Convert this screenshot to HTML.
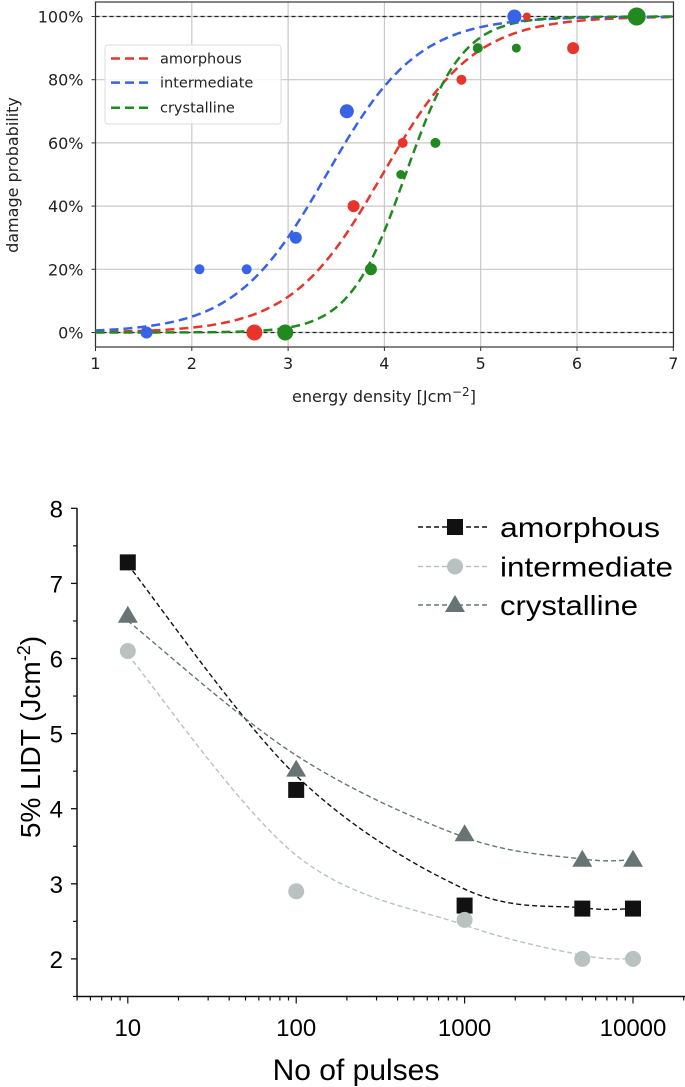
<!DOCTYPE html>
<html><head><meta charset="utf-8"><style>
html,body{margin:0;padding:0;background:#fff;}
svg{display:block;}
</style></head><body>
<svg id="chart" width="685" height="1087" xmlns="http://www.w3.org/2000/svg">
<g id="top"></g>
<g id="bot"></g>
</svg>
<script>
// ---------- Top chart data ----------
const topXTicks = [1,2,3,4,5,6,7];
const topYTicks = [0,20,40,60,80,100];
const seriesNames = ["amorphous","intermediate","crystalline"];
const seriesColors = ["#e8352c","#3a62e6","#21891f"];
const fitMid = [3.98, 3.40, 4.22];
const fitSlope = [2.1, 2.1, 3.4];
const amorX = [2.65,3.68,4.19,4.80,5.48,5.96];
const amorY = [0,40,60,80,100,90];
const amorR = [8,6,5,5,4,6];
const interX = [1.53,2.08,2.57,3.08,3.61,5.35];
const interY = [0,20,20,30,70,100];
const interR = [6,5,5,6,7,7];
const crysX = [2.97,3.86,4.17,4.53,4.97,5.37,6.62];
const crysY = [0,20,50,60,90,90,100];
const crysR = [8,6,4.5,5,5,4.5,9];

// ---------- Bottom chart data ----------
const botXTicks = [10,100,1000,10000];
const botYTicks = [2,3,4,5,6,7,8];
const pulses = [10,100,1000,5000,10000];
const lidtAmor = [7.28,4.25,2.71,2.67,2.67];
const lidtInter = [6.10,2.90,2.52,2.00,2.00];
const lidtCrys = [6.57,4.52,3.66,3.32,3.32];
const fitAmor = [7.25,4.44,2.93,2.68,2.67];
const fitInter = [6.05,3.38,2.45,2.05,2.00];
const fitCrys = [6.50,4.71,3.62,3.33,3.32];

const NS="http://www.w3.org/2000/svg";
function mk(parent,tag,attrs,text){const e=document.createElementNS(NS,tag);for(const k in attrs)e.setAttribute(k,attrs[k]);if(text!==undefined)e.textContent=text;parent.appendChild(e);return e;}

// ===== TOP =====
const T=document.getElementById('top');
const tx=v=>95.5+(v-1)*96.3;
const ty=p=>332.5-p*3.16;
const L=95.5,R=673.5,Tp=2,B=347;
for(const v of topXTicks){
  const g=mk(T,'line',{x1:tx(v),x2:tx(v),y1:Tp,y2:B,stroke:'#c8c8c8','stroke-width':1.2});
  
  mk(T,'line',{x1:tx(v),x2:tx(v),y1:B,y2:B+4,stroke:'#333'});
  const t=mk(T,'text',{x:tx(v),y:B+22,'text-anchor':'middle','font-family':'DejaVu Sans, sans-serif','font-size':16,fill:'#222'},String(v));
  
}
for(const p of topYTicks){
  const g=mk(T,'line',{x1:L,x2:R,y1:ty(p),y2:ty(p),stroke:'#c8c8c8','stroke-width':1.2});
  
  mk(T,'line',{x1:L-4,x2:L,y1:ty(p),y2:ty(p),stroke:'#333'});
  const t=mk(T,'text',{x:L-12,y:ty(p)+6,'text-anchor':'end','font-family':'DejaVu Sans, sans-serif','font-size':16,fill:'#222'},p+'%');
  
}
for(const p of [0,100]){
  const h=mk(T,'line',{x1:L,x2:R,y1:ty(p),y2:ty(p),stroke:'#222','stroke-width':1.2,'stroke-dasharray':'4,3'});
  
}
const fr=mk(T,'rect',{x:L,y:Tp,width:R-L,height:B-Tp,fill:'none',stroke:'#333','stroke-width':1.2});

const ptsSets=[[amorX,amorY,amorR],[interX,interY,interR],[crysX,crysY,crysR]];
for(let s=0;s<3;s++){
  let d='';
  for(let i=0;i<=200;i++){const x=1+6*i/200;const p=100/(1+Math.exp(-fitSlope[s]*(x-fitMid[s])));d+=(i?'L':'M')+tx(x).toFixed(1)+','+ty(p).toFixed(1);}
  const c=mk(T,'path',{d:d,fill:'none',stroke:seriesColors[s],'stroke-width':2.5,'stroke-dasharray':'9,5'});
  
}
for(let s=0;s<3;s++){
  const [xs,ys,rs]=ptsSets[s];
  for(let i=0;i<xs.length;i++){
    const c=mk(T,'circle',{cx:tx(xs[i]),cy:ty(ys[i]),r:rs[i],fill:seriesColors[s]});
    
  }
}
const lg=mk(T,'g',{});

mk(lg,'rect',{x:105,y:45,width:176,height:79,rx:3,fill:'#fff','fill-opacity':0.85,stroke:'#ddd'});
for(let s=0;s<3;s++){
  const y=[58.5,82.6,107.7][s];
  mk(lg,'line',{x1:111,x2:148,y1:y,y2:y,stroke:seriesColors[s],'stroke-width':2.5,'stroke-dasharray':'9,5'});
  const t=mk(lg,'text',{x:160,y:y+5,'font-family':'DejaVu Sans, sans-serif','font-size':14.5,fill:'#222'},seriesNames[s]);
  
}
const tyt=mk(T,'text',{x:0,y:0,transform:'translate(18,175) rotate(-90)','text-anchor':'middle','font-family':'DejaVu Sans, sans-serif','font-size':16,fill:'#222'},'damage probability');

const txt=mk(T,'text',{x:384,y:402,'text-anchor':'middle','font-family':'DejaVu Sans, sans-serif','font-size':16,fill:'#222'},'energy density [Jcm');

mk(txt,'tspan',{dy:-6,'font-size':12},'−2');
mk(txt,'tspan',{dy:6},']');

// ===== BOTTOM =====
const Bg=document.getElementById('bot');
const bx=v=>127.8+(Math.log10(v)-1)*168.4;
const by=v=>508.3+(8-v)*75.1;
const BL=77, BB=996.5;
mk(Bg,'line',{x1:BL,x2:BL,y1:508,y2:BB,stroke:'#111','stroke-width':1.5});
mk(Bg,'line',{x1:BL,x2:685,y1:BB,y2:BB,stroke:'#111','stroke-width':1.5});
for(const v of botYTicks){
  mk(Bg,'line',{x1:BL-6,x2:BL,y1:by(v),y2:by(v),stroke:'#111','stroke-width':1.3});
  const t=mk(Bg,'text',{x:63,y:by(v)+9,'text-anchor':'end','font-family':'Liberation Sans, sans-serif','font-size':24,fill:'#000'},String(v));
  
}
for(let v=1.5;v<8;v+=1) mk(Bg,'line',{x1:BL-4,x2:BL,y1:by(v),y2:by(v),stroke:'#111','stroke-width':1.2});
for(let e=0;e<=4;e++){for(let m=1;m<10;m++){const v=m*Math.pow(10,e);const x=bx(v);if(x<BL||x>685)continue;
  mk(Bg,'line',{x1:x,x2:x,y1:BB,y2:BB+(m===1?7:4),stroke:'#111','stroke-width':1.2});}}
for(const v of botXTicks){
  const t=mk(Bg,'text',{x:bx(v),y:1036,'text-anchor':'middle','font-family':'Liberation Sans, sans-serif','font-size':24,fill:'#000'},String(v));
  
}
function smooth(xs,ys){const P=xs.map((x,i)=>[bx(x),by(ys[i])]);let d='M'+P[0][0]+','+P[0][1];
  for(let i=0;i<P.length-1;i++){const p0=P[Math.max(0,i-1)],p1=P[i],p2=P[i+1],p3=P[Math.min(P.length-1,i+2)];
    const c1=[p1[0]+(p2[0]-p0[0])/6,p1[1]+(p2[1]-p0[1])/6],c2=[p2[0]-(p3[0]-p1[0])/6,p2[1]-(p3[1]-p1[1])/6];
    d+=`C${c1[0]},${c1[1]} ${c2[0]},${c2[1]} ${p2[0]},${p2[1]}`;}return d;}
const bCols=['#111','#b9c2c0','#687474'];
const fits=[fitAmor,fitInter,fitCrys], vals=[lidtAmor,lidtInter,lidtCrys];
for(let s=0;s<3;s++){
  const c=mk(Bg,'path',{d:smooth(pulses,fits[s]),fill:'none',stroke:bCols[s],'stroke-width':1.4,'stroke-dasharray':'5,3'});
  
}
function marker(g,s,x,y){let m;
  if(s===0)m=mk(g,'rect',{x:x-8,y:y-8,width:16,height:16,fill:'#111'});
  else if(s===1)m=mk(g,'circle',{cx:x,cy:y,r:8,fill:bCols[1]});
  else m=mk(g,'polygon',{points:`${x},${y-10} ${x+10},${y+7} ${x-10},${y+7}`,fill:bCols[2]});
  return m;}
for(let s=0;s<3;s++) for(let i=0;i<pulses.length;i++){
  const m=marker(Bg,s,bx(pulses[i]),by(vals[s][i]));
  
}
const lg2=mk(Bg,'g',{});

const lw=[160,173,138];
for(let s=0;s<3;s++){
  const y=[527,566.5,605][s];
  mk(lg2,'line',{x1:418,x2:490,y1:y,y2:y,stroke:bCols[s],'stroke-width':1.4,'stroke-dasharray':'5,3'});
  marker(lg2,s,455,y);
  const t=mk(lg2,'text',{x:500,y:y+10,'font-family':'Liberation Sans, sans-serif','font-size':28,fill:'#000',textLength:lw[s],lengthAdjust:'spacingAndGlyphs'},seriesNames[s]);
  
}
const byt=mk(Bg,'text',{x:0,y:0,transform:'translate(40,737) rotate(-90)','text-anchor':'middle','font-family':'Liberation Sans, sans-serif','font-size':28,fill:'#000'},'5% LIDT (Jcm');

mk(byt,'tspan',{dy:-10,'font-size':18},'-2');
mk(byt,'tspan',{dy:10},')');
const bxt=mk(Bg,'text',{x:356,y:1080,'text-anchor':'middle','font-family':'Liberation Sans, sans-serif','font-size':30,fill:'#000'},'No of pulses');

</script>
</body></html>
